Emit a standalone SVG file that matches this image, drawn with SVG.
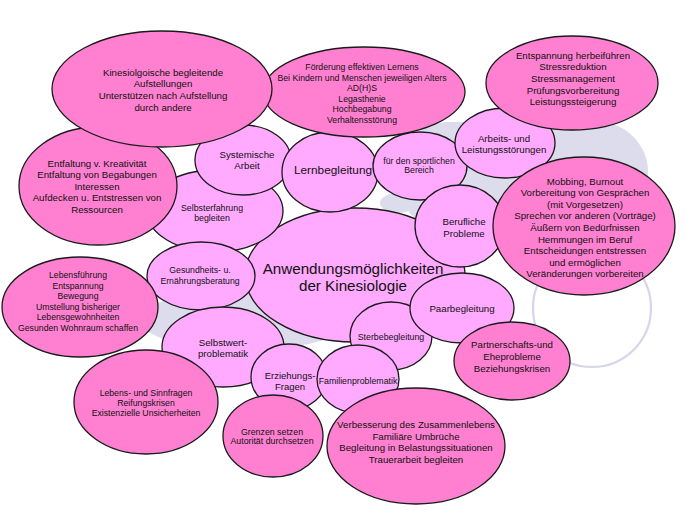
<svg xmlns="http://www.w3.org/2000/svg" width="700" height="525" viewBox="0 0 700 525">
<style>
.lt{fill:#ffaaff;stroke:#1a1a1a;stroke-width:1.3}
.dk{fill:#ff80d0;stroke:#1a1a1a;stroke-width:1.3}
.bg{fill:#dcdcec;stroke:none}
.ring{fill:#ffffff;stroke:#d6d6ea;stroke-width:2.2}
text{font-family:"Liberation Sans",Arial,sans-serif;fill:#111;text-anchor:middle}
.s97{font-size:9.7px}
.s88{font-size:8.8px}
.s87{font-size:8.7px}
</style>
<rect width="700" height="525" fill="#ffffff"/>
<g id="background">
<rect class="bg" x="399" y="122" width="249" height="110" rx="50"/>
<ellipse class="bg" cx="245" cy="320" rx="105" ry="30"/>
<ellipse class="bg" cx="398" cy="203" rx="18" ry="10"/>
<circle class="ring" cx="592" cy="308" r="59"/>
</g>
<g id="connectors"></g>
<g id="n-central"><ellipse class="lt" cx="355" cy="275" rx="110" ry="67"/>
<text x="353" y="273.5" style="font-size:15.2px">Anwendungsmöglichkeiten</text>
<text x="353" y="290.5" style="font-size:15.2px">der Kinesiologie</text></g>
<g id="n-selbsterfahrung"><ellipse class="lt" cx="215" cy="211" rx="68" ry="41"/>
<text class="s88" x="212" y="211">Selbsterfahrung</text><text class="s88" x="212" y="221">begleiten</text></g>
<g id="n-systemische"><ellipse class="lt" cx="243" cy="160" rx="48" ry="35"/>
<text class="s97" x="247" y="157.5">Systemische</text><text class="s97" x="247" y="169">Arbeit</text></g>
<g id="n-lernbegleitung"><ellipse class="lt" cx="330" cy="172" rx="48" ry="40"/>
<text x="333" y="174" style="font-size:11.8px">Lernbegleitung</text></g>
<g id="n-sport"><ellipse class="lt" cx="420" cy="166" rx="47" ry="34"/>
<text class="s87" x="419" y="163.8">für den sportlichen</text><text class="s87" x="419" y="173">Bereich</text></g>
<g id="n-arbeits"><ellipse class="lt" cx="505" cy="143" rx="50" ry="35"/>
<text class="s97" x="504" y="141.5">Arbeits- und</text><text class="s97" x="504" y="153">Leistungsstörungen</text></g>
<g id="n-berufliche"><ellipse class="lt" cx="460" cy="226" rx="45" ry="41"/>
<text class="s97" x="464" y="225">Berufliche</text><text class="s97" x="464" y="236.6">Probleme</text></g>
<g id="n-gesundheit"><ellipse class="lt" cx="201" cy="276" rx="54" ry="34"/>
<text class="s87" x="200" y="273">Gesundheits- u.</text><text class="s87" x="200" y="283.7">Ernährungsberatung</text></g>
<g id="n-selbstwert"><ellipse class="lt" cx="223" cy="347" rx="61" ry="40"/>
<text class="s97" x="223" y="345.5">Selbstwert-</text><text class="s97" x="223" y="357">problematik</text></g>
<g id="n-sterbe"><ellipse class="lt" cx="391" cy="336" rx="41" ry="34"/>
<text class="s88" x="391" y="339.8">Sterbebegleitung</text></g>
<g id="n-paar"><ellipse class="lt" cx="462" cy="308" rx="52" ry="35"/>
<text class="s97" x="462" y="312.4">Paarbegleitung</text></g>
<g id="n-erziehung"><ellipse class="lt" cx="289" cy="377" rx="38" ry="33"/>
<text x="290" y="378.5" style="font-size:9.5px">Erziehungs-</text><text x="290" y="390" style="font-size:9.5px">Fragen</text></g>
<g id="n-familie"><ellipse class="lt" cx="358" cy="379" rx="41" ry="34"/>
<text class="s88" x="358" y="383.5">Familienproblematik</text></g>
<g id="n-foerderung"><ellipse class="dk" cx="364" cy="92" rx="101" ry="45"/>
<text class="s87" x="362" y="70">Förderung effektiven Lernens</text>
<text class="s87" x="362" y="80.5">Bei Kindern und Menschen jeweiligen Alters</text>
<text class="s87" x="362" y="91">AD(H)S</text>
<text class="s87" x="362" y="101.5">Legasthenie</text>
<text class="s87" x="362" y="112">Hochbegabung</text>
<text class="s87" x="362" y="122.5">Verhaltensstörung</text></g>
<g id="n-entfaltung"><ellipse class="dk" cx="98" cy="186" rx="79" ry="59"/>
<text class="s97" x="97" y="166.5">Entfaltung v. Kreativität</text>
<text class="s97" x="97" y="178">Entfaltung von Begabungen</text>
<text class="s97" x="97" y="189.5">Interessen</text>
<text class="s97" x="97" y="201">Aufdecken u. Entstressen von</text>
<text class="s97" x="97" y="212.5">Ressourcen</text></g>
<g id="n-kinesio"><ellipse class="dk" cx="162" cy="89" rx="110" ry="58"/>
<text class="s97" x="163" y="75.5">Kinesiolgoische begleitende</text>
<text class="s97" x="163" y="87.2">Aufstellungen</text>
<text class="s97" x="163" y="98.9">Unterstützen nach Aufstellung</text>
<text class="s97" x="163" y="110.6">durch andere</text></g>
<g id="n-entspannung"><ellipse class="dk" cx="572" cy="83" rx="86" ry="47"/>
<text class="s97" x="573" y="58.5">Entspannung herbeiführen</text>
<text class="s97" x="573" y="70.2">Stressreduktion</text>
<text class="s97" x="573" y="81.9">Stressmanagement</text>
<text class="s97" x="573" y="93.6">Prüfungsvorbereitung</text>
<text class="s97" x="573" y="105.3">Leistungssteigerung</text></g>
<g id="n-mobbing"><ellipse class="dk" cx="584" cy="226" rx="91" ry="69"/>
<text class="s97" x="585" y="184.5">Mobbing, Burnout</text>
<text class="s97" x="585" y="196.1">Vorbereitung von Gesprächen</text>
<text class="s97" x="585" y="207.7">(mit Vorgesetzen)</text>
<text class="s97" x="585" y="219.3">Sprechen vor anderen (Vorträge)</text>
<text class="s97" x="585" y="230.9">Äußern von Bedürfnissen</text>
<text class="s97" x="585" y="242.5">Hemmungen im Beruf</text>
<text class="s97" x="585" y="254.1">Entscheidungen entstressen</text>
<text class="s97" x="585" y="265.7">und ermöglichen</text>
<text class="s97" x="585" y="277.3">Veränderungen vorbereiten</text></g>
<g id="n-lebensfuehrung"><ellipse class="dk" cx="80" cy="307" rx="78" ry="50"/>
<text class="s87" x="78" y="278">Lebensführung</text>
<text class="s87" x="78" y="288.5">Entspannung</text>
<text class="s87" x="78" y="299">Bewegung</text>
<text class="s87" x="78" y="309.5">Umstellung bisheriger</text>
<text class="s87" x="78" y="320">Lebensgewohnheiten</text>
<text class="s87" x="78" y="330.5">Gesunden Wohnraum schaffen</text></g>
<g id="n-sinnfragen"><ellipse class="dk" cx="146" cy="402" rx="72" ry="52"/>
<text class="s87" x="146" y="396.3">Lebens- und Sinnfragen</text>
<text class="s87" x="146" y="406.3">Reifungskrisen</text>
<text class="s87" x="146" y="416.3">Existenzielle Unsicherheiten</text></g>
<g id="n-grenzen"><ellipse class="dk" cx="273" cy="436" rx="50" ry="41"/>
<text class="s88" x="272" y="434.7">Grenzen setzen</text>
<text class="s88" x="272" y="444.2">Autorität durchsetzen</text></g>
<g id="n-verbesserung"><ellipse class="dk" cx="416" cy="446" rx="89" ry="58"/>
<text class="s97" x="416" y="428.4">Verbesserung des Zusammenlebens</text>
<text class="s97" x="416" y="439.8">Familiäre Umbrüche</text>
<text class="s97" x="416" y="451.2">Begleitung in Belastungssituationen</text>
<text class="s97" x="416" y="462.7">Trauerarbeit begleiten</text></g>
<g id="n-partnerschaft"><ellipse class="dk" cx="512" cy="361" rx="58" ry="39"/>
<text class="s97" x="512" y="348.4">Partnerschafts-und</text>
<text class="s97" x="512" y="360.1">Eheprobleme</text>
<text class="s97" x="512" y="371.7">Beziehungskrisen</text></g>
</svg>
